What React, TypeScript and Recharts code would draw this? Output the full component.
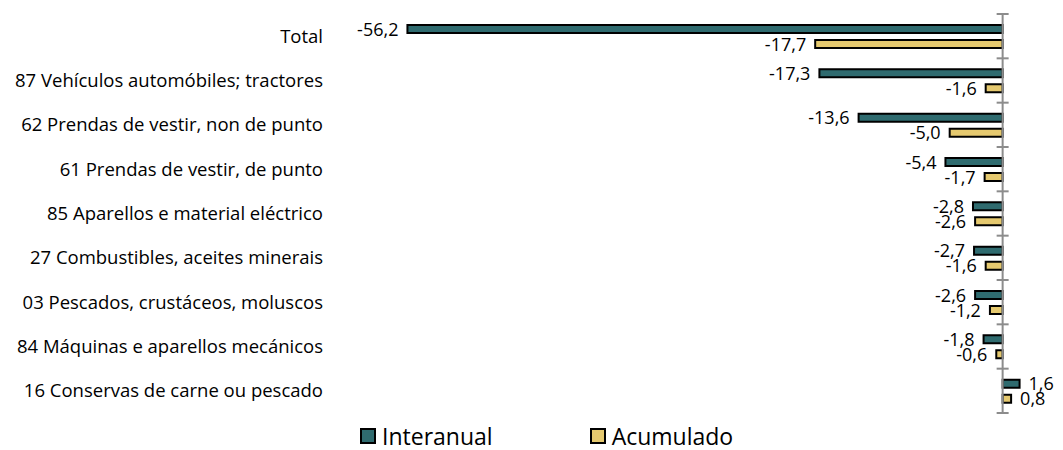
import { BarChart, Bar, XAxis, YAxis, LabelList, ReferenceLine, Legend } from 'recharts';

const categories = [
  'Total',
  '87 Vehículos automóbiles; tractores',
  '62 Prendas de vestir, non de punto',
  '61 Prendas de vestir, de punto',
  '85 Aparellos e material eléctrico',
  '27 Combustibles, aceites minerais',
  '03 Pescados, crustáceos, moluscos',
  '84 Máquinas e aparellos mecánicos',
  '16 Conservas de carne ou pescado',
];
const interanual = [-56.2, -17.3, -13.6, -5.4, -2.8, -2.7, -2.6, -1.8, 1.6];
const acumulado = [-17.7, -1.6, -5.0, -1.7, -2.6, -1.6, -1.2, -0.6, 0.8];

const TEAL = '#2F6B6F';
const YELLOW = '#E5C96F';
const FONT = '"Open Sans", "Noto Sans", sans-serif';

const data = categories.map((name, i) => ({
  name,
  interanual: interanual[i],
  acumulado: acumulado[i],
}));

const fmt = (v: number) => v.toFixed(1).replace('.', ',');

function ValueLabel(props: any) {
  const { x, y, width, height, value } = props;
  const left = Math.min(x, x + width);
  const right = Math.max(x, x + width);
  const neg = value < 0;
  return (
    <text
      x={neg ? left - 9 : right + 9}
      y={y + height / 2 + 2}
      textAnchor={neg ? 'end' : 'start'}
      dominantBaseline="middle"
      fontSize={18}
      fontFamily={FONT}
      fill="#000"
    >
      {fmt(value)}
    </text>
  );
}

function AxisWithTicks(props: any) {
  const { x1, y1, y2 } = props;
  const top = Math.min(y1, y2);
  const bottom = Math.max(y1, y2);
  const step = (bottom - top) / categories.length;
  return (
    <g>
      <line x1={x1} x2={x1} y1={top} y2={bottom} stroke="#8C8C8C" strokeWidth={2} />
      {categories.concat(['']).map((_, i) => (
        <line
          key={i}
          x1={x1 - 6}
          x2={x1 + 6}
          y1={top + i * step}
          y2={top + i * step}
          stroke="#8C8C8C"
          strokeWidth={2}
        />
      ))}
    </g>
  );
}

function LegendContent() {
  const items = [
    { label: 'Interanual', color: TEAL },
    { label: 'Acumulado', color: YELLOW },
  ];
  return (
    <div style={{ display: 'flex', gap: 97, paddingLeft: 360, paddingTop: 11, fontFamily: FONT, fontSize: 23, lineHeight: '24px' }}>
      {items.map((it) => (
        <div key={it.label} style={{ display: 'flex', alignItems: 'center', gap: 6 }}>
          <span
            style={{
              display: 'inline-block',
              width: 12,
              height: 12,
              background: it.color,
              border: '2px solid #000',
            }}
          />
          <span>{it.label}</span>
        </div>
      ))}
    </div>
  );
}

export default function App() {
  return (
    <div style={{ position: 'absolute', left: 0, top: 0, width: 1063, height: 450, background: '#fff' }}>
      <BarChart
        width={1063}
        height={450}
        data={data}
        layout="vertical"
        margin={{ top: 14, right: 18, bottom: 0, left: 0 }}
        barSize={8}
        barGap={7}
      >
        <XAxis type="number" domain={[-62, 4]} hide />
        <YAxis
          type="category"
          dataKey="name"
          width={346}
          axisLine={false}
          tickLine={false}
          tick={{ fontSize: 18.5, fontFamily: FONT, fill: '#000', dx: -15 }}
          interval={0}
        />
        <Bar dataKey="interanual" name="Interanual" fill={TEAL} stroke="#000" strokeWidth={2} isAnimationActive={false}>
          <LabelList dataKey="interanual" content={ValueLabel} />
        </Bar>
        <Bar dataKey="acumulado" name="Acumulado" fill={YELLOW} stroke="#000" strokeWidth={2} isAnimationActive={false}>
          <LabelList dataKey="acumulado" content={ValueLabel} />
        </Bar>
        <ReferenceLine x={0} shape={AxisWithTicks} />
        <Legend verticalAlign="bottom" height={37} content={LegendContent} />
      </BarChart>
    </div>
  );
}
